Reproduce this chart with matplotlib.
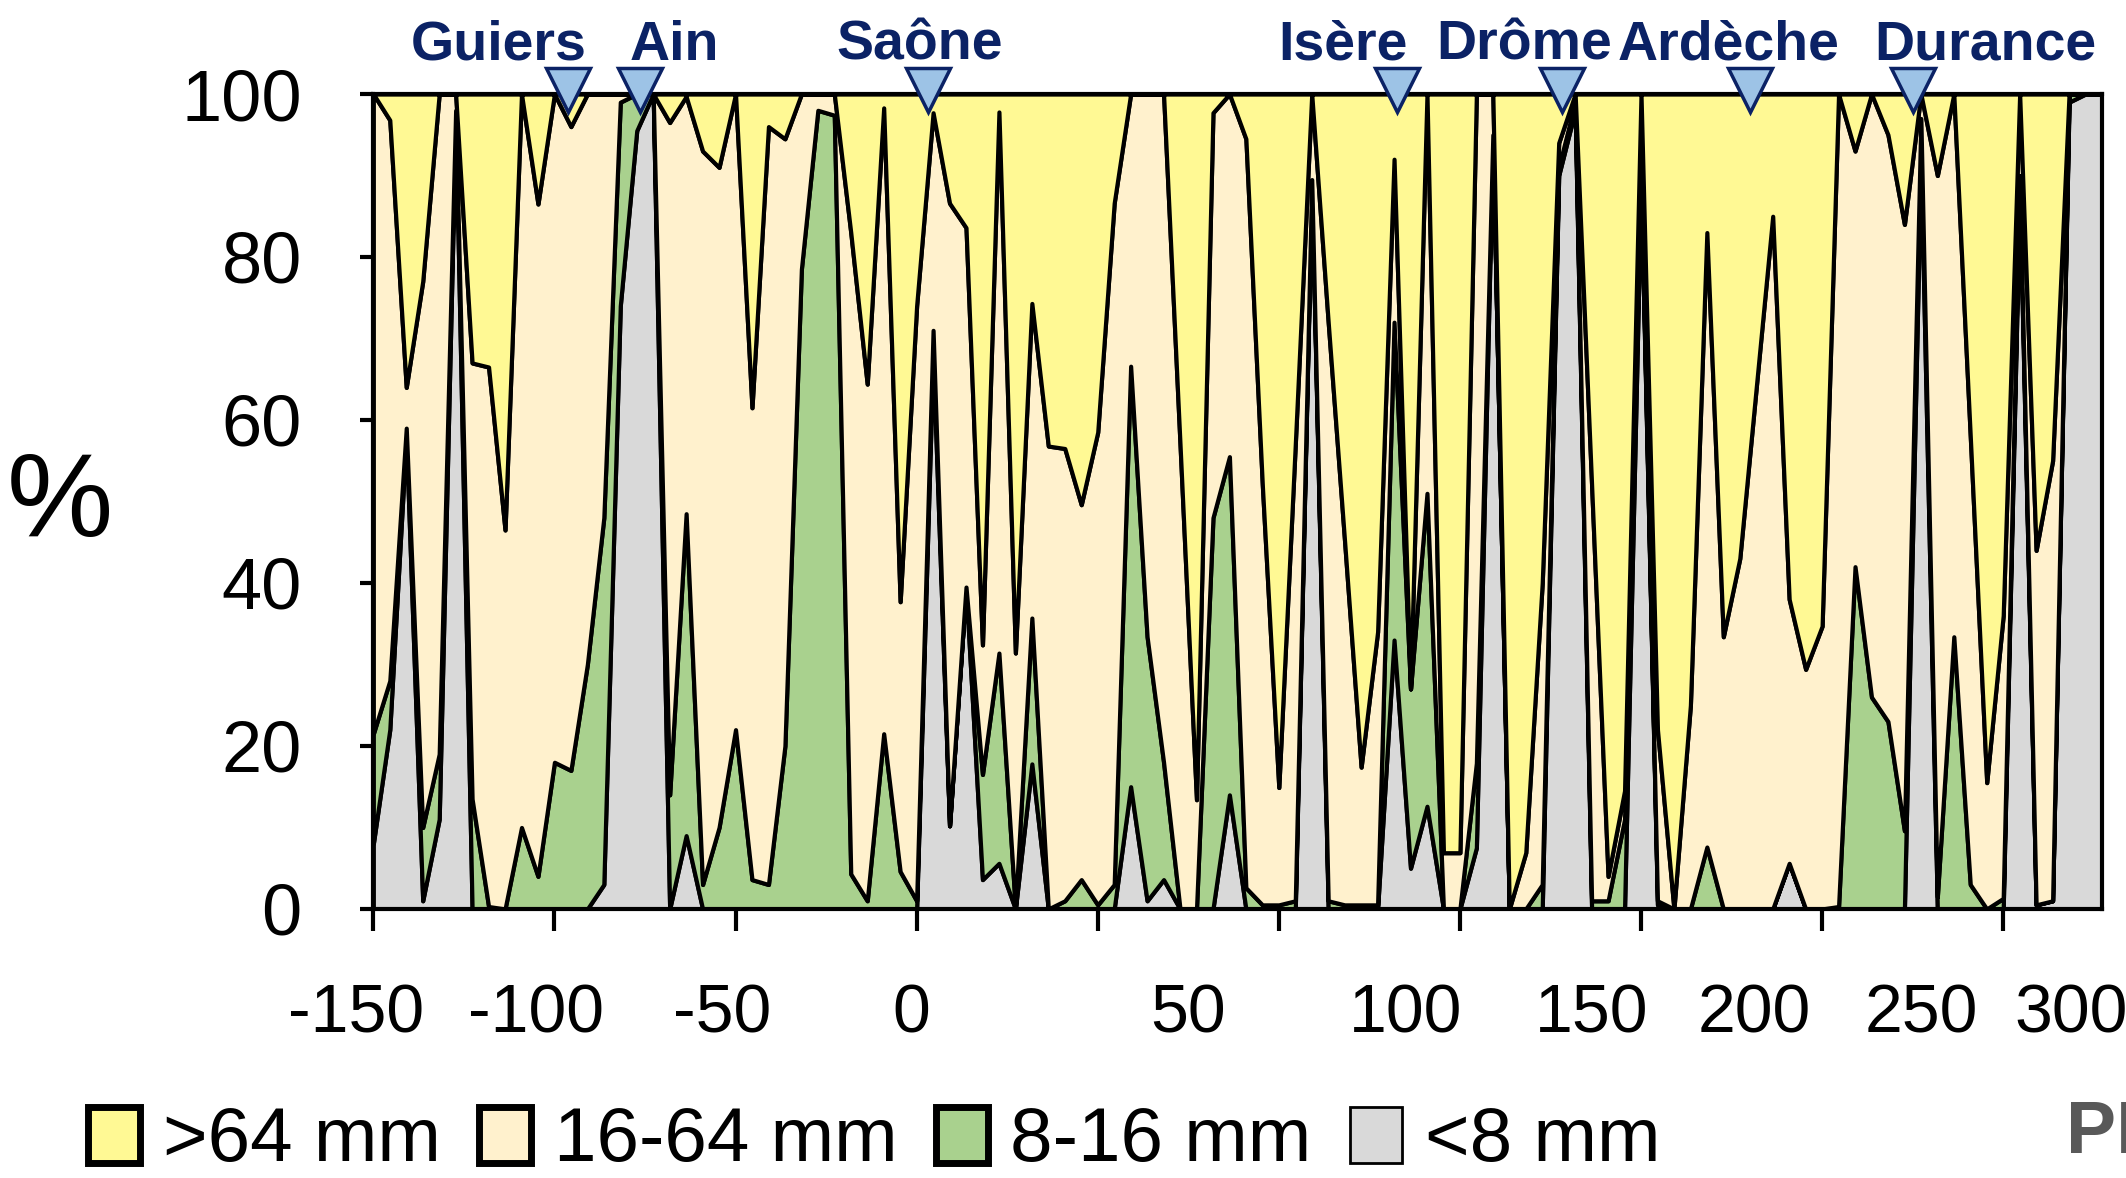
import numpy as np
import matplotlib
matplotlib.use("Agg")
import matplotlib.pyplot as plt
from matplotlib.patches import Patch

# cumulative % finer than 8, 16 and 64 mm, one value per sample (upstream -> downstream)
finer_8 = [
    8, 22, 58, 1, 11, 97, 0, 0, 0, 0,
    0, 0, 0, 0, 3, 74, 95.5, 100, 0, 9,
    0, 0, 0, 0, 0, 0, 0, 0, 0, 0,
    0, 0, 0, 0, 68, 10.2, 39.5, 3.6, 5.6, 0,
    17.8, 0, 0, 0, 0, 0, 15, 1, 3.6, 0,
    0, 0, 14, 0, 0, 0, 0, 89, 0, 0,
    0, 0, 33, 5, 12.6, 0, 0, 7.5, 95, 0,
    0, 0, 90, 98, 0, 0, 0, 89, 0.5, 0,
    0, 0, 0, 0, 0, 0, 5.6, 0, 0, 0,
    0, 0, 0, 0, 92, 0, 0, 0, 0, 0,
    88, 0.5, 1, 99, 100, 100,
]
finer_16 = [
    21.5, 28, 59, 10, 19, 98, 13.5, 0.3, 0, 10,
    4, 18, 17, 30, 48, 99, 100, 100, 14, 48.5,
    3, 10, 22, 3.6, 3, 20, 78.5, 98, 97.4, 4.3,
    1, 21.5, 4.6, 1, 71, 10.2, 39.5, 16.5, 31.4, 0,
    35.7, 0, 1, 3.6, 0.5, 3, 66.6, 33.4, 18, 0,
    0, 48, 55.5, 2.6, 0.5, 0.5, 1, 89.5, 1, 0.5,
    0.5, 0.5, 72, 27, 51, 0, 0, 17.9, 95, 0,
    0, 3, 91, 99, 1, 1, 11, 90, 1, 0,
    0, 7.6, 0, 0, 0, 0, 5.6, 0, 0, 0.3,
    42, 26, 23, 9.6, 97, 1.5, 33.4, 3, 0, 1.3,
    90, 0.5, 1, 100, 100, 100,
]
finer_64 = [
    100, 96.8, 64, 77, 100, 100, 67, 66.5, 46.5, 100,
    86.5, 100, 96, 100, 100, 100, 100, 100, 96.5, 99.7,
    93, 91, 100, 61.5, 96, 94.5, 100, 100, 100, 83,
    64.4, 98.3, 37.7, 74, 97.7, 86.6, 83.6, 32.4, 97.8, 31.4,
    74.3, 56.8, 56.5, 49.6, 58.5, 86.6, 100, 100, 100, 57,
    13.4, 97.7, 100, 94.5, 52, 14.9, 57, 100, 72, 45,
    17.4, 34, 92, 27, 100, 6.9, 6.9, 100, 100, 0,
    6.9, 40, 94, 100, 52, 4, 14.5, 100, 22, 0,
    25, 83, 33.4, 43, 64, 85, 38, 29.4, 34.7, 100,
    93, 100, 95, 84, 100, 90, 100, 58, 15.5, 36,
    100, 44, 55, 100, 100, 100,
]

class_names = [">64 mm", "16-64 mm", "8-16 mm", "<8 mm"]
class_colors = ["#FFF994", "#FFF1CD", "#A9D18E", "#D9D9D9"]

# PK labels and where they sit along the sample axis
pk_labels = ["-150", "-100", "-50", "0", "50", "100", "150", "200", "250", "300"]
pk_label_pos = [-1.05, 9.86, 21.2, 32.7, 49.5, 62.7, 74.0, 83.9, 94.0, 103.1]

rivers = ["Guiers", "Ain", "Saône", "Isère", "Drôme", "Ardèche", "Durance"]
river_pos = [11.8, 16.2, 33.7, 62.2, 72.2, 83.6, 93.5]
river_text_pos = [7.6, 18.3, 33.2, 58.9, 69.9, 82.3, 97.9]

plt.rcParams["font.family"] = ["Liberation Sans", "DejaVu Sans"]

f8 = np.array(finer_8, dtype=float)
f16 = np.array(finer_16, dtype=float)
f64 = np.array(finer_64, dtype=float)
idx = np.arange(len(f8))

fig = plt.figure(figsize=(21.26, 11.78), dpi=100)
ax = fig.add_axes([0.1756, 0.2284, 0.8131, 0.6918])

ax.stackplot(
    idx,
    f8, f16 - f8, f64 - f16, 100 - f64,
    colors=class_colors[::-1],
    edgecolor="black",
    linewidth=3,
)

for s in ax.spines.values():
    s.set_linewidth(3)
    s.set_zorder(5)

# tick marks every 11 samples (~50 km); PK labels are placed by hand like the original
ax.set_xticks(np.arange(0, len(idx), 11))
ax.tick_params(axis="x", direction="out", length=16, width=3, labelbottom=False)
ax.set_yticks([0, 20, 40, 60, 80, 100])
ax.tick_params(axis="y", direction="out", length=9.5, width=3, pad=42, labelsize=52)
ax.set_xlim(0, len(idx) - 1)
ax.set_ylim(0, 100)

xlab_tr = ax.get_xaxis_transform()
for lab, xp in zip(pk_labels, pk_label_pos):
    ax.text(xp, -0.152, lab, transform=xlab_tr, ha="center", va="baseline",
            fontsize=49, clip_on=False)

# confluences
ax.plot(river_pos, [100.5] * len(river_pos), "v", markersize=31,
        markerfacecolor="#9DC3E6", markeredgecolor="#0B2265", markeredgewidth=2.5,
        clip_on=False, zorder=10)
for name, xp in zip(rivers, river_text_pos):
    ax.text(xp, 104.2, name, ha="center", va="baseline", fontsize=40,
            fontweight="bold", color="#0B2265", clip_on=False)

fig.text(0.0282, 0.5713, "%", fontsize=86, ha="center", va="center")
fig.text(0.9718, 0.021, "PK", fontsize=54, fontweight="bold", color="#595959",
         ha="left", va="baseline")

handles = [
    Patch(facecolor=c, edgecolor="black", linewidth=(2 if n == "<8 mm" else 5))
    for n, c in zip(class_names, class_colors)
]
fig.legend(handles, class_names, loc="center left", bbox_to_anchor=(0.0414, 0.0306),
           ncol=4, frameon=False, fontsize=55, borderpad=0, borderaxespad=0,
           handlelength=0.68, handleheight=0.74, handletextpad=0.3, columnspacing=0.5)

fig.savefig("out.png", dpi=100)
